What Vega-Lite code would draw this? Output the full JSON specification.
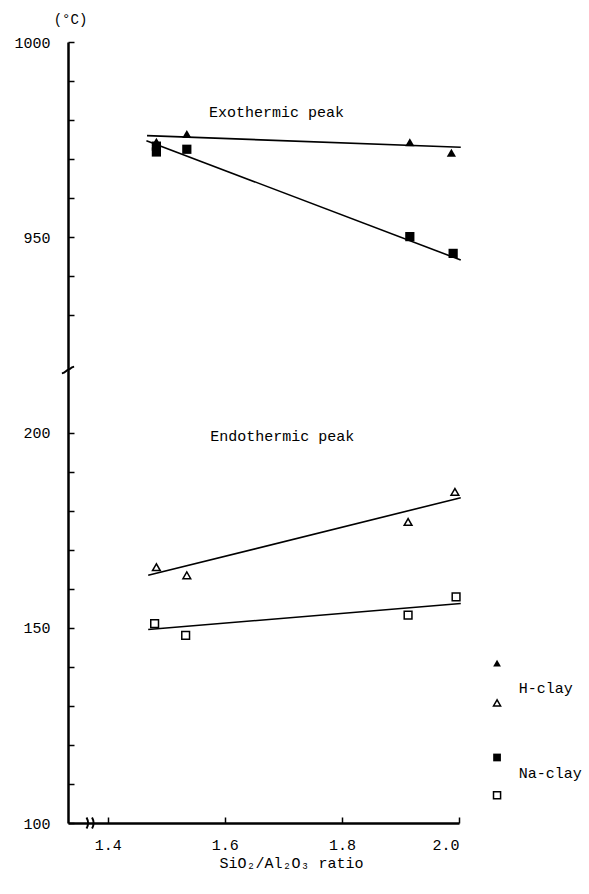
{
  "$schema": "https://vega.github.io/schema/vega-lite/v6.json",
  "background": "white",
  "padding": {"left": 13, "top": 12, "right": 0, "bottom": 30},
  "spacing": 0,
  "bounds": "flush",
  "config": {
    "view": {"stroke": null},
    "font": "Liberation Mono",
    "axis": {
      "grid": false,
      "domainColor": "black",
      "domainWidth": 2.5,
      "tickColor": "black",
      "tickWidth": 1.5,
      "tickSize": -6,
      "labelColor": "black",
      "labelFont": "Liberation Mono",
      "labelFontSize": 15,
      "titleColor": "black",
      "titleFont": "Liberation Mono",
      "titleFontSize": 15,
      "titleFontWeight": "normal"
    }
  },
  "datasets": {
    "points": [
      {"peak": "exo", "clay": "H-clay", "x": 1.483, "y": 974.4},
      {"peak": "exo", "clay": "H-clay", "x": 1.535, "y": 976.4},
      {"peak": "exo", "clay": "H-clay", "x": 1.916, "y": 974.3},
      {"peak": "exo", "clay": "H-clay", "x": 1.987, "y": 971.6},
      {"peak": "exo", "clay": "Na-clay", "x": 1.483, "y": 973.3},
      {"peak": "exo", "clay": "Na-clay", "x": 1.483, "y": 971.8},
      {"peak": "exo", "clay": "Na-clay", "x": 1.535, "y": 972.5},
      {"peak": "exo", "clay": "Na-clay", "x": 1.916, "y": 950.1},
      {"peak": "exo", "clay": "Na-clay", "x": 1.99, "y": 945.8},
      {"peak": "endo", "clay": "H-clay", "x": 1.483, "y": 165.6},
      {"peak": "endo", "clay": "H-clay", "x": 1.535, "y": 163.5},
      {"peak": "endo", "clay": "H-clay", "x": 1.913, "y": 177.2},
      {"peak": "endo", "clay": "H-clay", "x": 1.993, "y": 184.9},
      {"peak": "endo", "clay": "Na-clay", "x": 1.48, "y": 151.1},
      {"peak": "endo", "clay": "Na-clay", "x": 1.533, "y": 148.1},
      {"peak": "endo", "clay": "Na-clay", "x": 1.913, "y": 153.3},
      {"peak": "endo", "clay": "Na-clay", "x": 1.995, "y": 158.0}
    ],
    "lines": [
      {"peak": "exo", "clay": "H-clay", "x": 1.467, "y": 976.0},
      {"peak": "exo", "clay": "H-clay", "x": 2.003, "y": 973.0},
      {"peak": "exo", "clay": "Na-clay", "x": 1.466, "y": 974.7},
      {"peak": "exo", "clay": "Na-clay", "x": 2.003, "y": 944.1},
      {"peak": "endo", "clay": "H-clay", "x": 1.469, "y": 163.5},
      {"peak": "endo", "clay": "H-clay", "x": 2.003, "y": 183.4},
      {"peak": "endo", "clay": "Na-clay", "x": 1.469, "y": 149.6},
      {"peak": "endo", "clay": "Na-clay", "x": 2.003, "y": 156.3}
    ],
    "labels": [
      {"peak": "exo", "x": 1.573, "y": 982, "text": "Exothermic peak"},
      {"peak": "endo", "x": 1.575, "y": 199.2, "text": "Endothermic peak"}
    ],
    "legendSymbols": [
      {"clay": "H-clay", "fill": "filled", "x": 2.065, "y": 141.0},
      {"clay": "H-clay", "fill": "open", "x": 2.065, "y": 130.8},
      {"clay": "Na-clay", "fill": "filled", "x": 2.065, "y": 116.8},
      {"clay": "Na-clay", "fill": "open", "x": 2.065, "y": 107.1}
    ],
    "legendLabels": [
      {"x": 2.102, "y": 134.5, "text": "H-clay"},
      {"x": 2.102, "y": 112.8, "text": "Na-clay"}
    ],
    "breaks": [
      {"panel": "top", "x": 1.332, "y": 915.9},
      {"panel": "bottom", "x": 1.371, "y": 100}
    ]
  },
  "vconcat": [
    {
      "width": 391,
      "height": 328,
      "layer": [
        {
          "data": {"name": "lines"},
          "transform": [{"filter": "datum.peak === 'exo'"}],
          "mark": {"type": "line", "color": "black", "strokeWidth": 1.6},
          "encoding": {
            "x": {"field": "x", "type": "quantitative", "scale": {"domain": [1.332, 2.0], "nice": false, "zero": false}, "axis": null},
            "y": {
              "field": "y", "type": "quantitative",
              "scale": {"domain": [915.9, 1000], "nice": false, "zero": false},
              "axis": {
                "values": [930, 940, 950, 960, 970, 980, 990, 1000],
                "format": "d",
                "labelExpr": "datum.value == 1000 || datum.value == 950 ? datum.label : ''",
                "labelPadding": 24,
                "title": "(°C)",
                "titleAngle": 0,
                "titleAlign": "center",
                "titleBaseline": "middle",
                "titleX": 2,
                "titleY": -23,
                "titleFontSize": 14
              }
            },
            "detail": {"field": "clay"}
          }
        },
        {
          "data": {"name": "points"},
          "transform": [{"filter": "datum.peak === 'exo'"}],
          "mark": {"type": "point", "filled": true, "color": "black", "opacity": 1, "size": 85},
          "encoding": {
            "x": {"field": "x", "type": "quantitative"},
            "y": {"field": "y", "type": "quantitative"},
            "shape": {"field": "clay", "type": "nominal", "scale": {"domain": ["H-clay", "Na-clay"], "range": ["triangle-up", "square"]}, "legend": null}
          }
        },
        {
          "data": {"name": "labels"},
          "transform": [{"filter": "datum.peak === 'exo'"}],
          "mark": {"type": "text", "align": "left", "baseline": "middle", "fontSize": 15, "color": "black", "font": "Liberation Mono"},
          "encoding": {
            "x": {"field": "x", "type": "quantitative"},
            "y": {"field": "y", "type": "quantitative"},
            "text": {"field": "text"}
          }
        },
        {
          "data": {"name": "breaks"},
          "transform": [{"filter": "datum.panel === 'top'"}],
          "mark": {"type": "point", "filled": false, "color": "black", "strokeWidth": 2, "opacity": 1, "size": 150,
                   "shape": "M-1,0.55 C-0.4,0.45 -0.2,-0.05 0,0 C0.2,0.05 0.4,-0.45 1,-0.55"},
          "encoding": {
            "x": {"field": "x", "type": "quantitative"},
            "y": {"field": "y", "type": "quantitative"}
          }
        }
      ]
    },
    {
      "width": 391,
      "height": 453,
      "layer": [
        {
          "data": {"name": "lines"},
          "transform": [{"filter": "datum.peak === 'endo'"}],
          "mark": {"type": "line", "color": "black", "strokeWidth": 1.6},
          "encoding": {
            "x": {
              "field": "x", "type": "quantitative",
              "scale": {"domain": [1.332, 2.0], "nice": false, "zero": false},
              "axis": {
                "values": [1.4, 1.6, 1.8, 2.0],
                "format": ".1f",
                "labelPadding": 20,
                "title": "SiO₂/Al₂O₃ ratio",
                "titleX": 223,
                "titleY": 39,
                "titleAlign": "center",
                "titleBaseline": "middle",
                "titleFontSize": 15
              }
            },
            "y": {
              "field": "y", "type": "quantitative",
              "scale": {"domain": [100, 216.15], "nice": false, "zero": false},
              "axis": {
                "values": [100, 110, 120, 130, 140, 150, 160, 170, 180, 190, 200],
                "format": "d",
                "labelExpr": "datum.value == 100 || datum.value == 150 || datum.value == 200 ? datum.label : ''",
                "labelPadding": 24,
                "title": null
              }
            },
            "detail": {"field": "clay"}
          }
        },
        {
          "data": {"name": "points"},
          "transform": [{"filter": "datum.peak === 'endo'"}],
          "mark": {"type": "point", "filled": false, "color": "black", "strokeWidth": 1.5, "opacity": 1, "size": 60},
          "encoding": {
            "x": {"field": "x", "type": "quantitative"},
            "y": {"field": "y", "type": "quantitative"},
            "shape": {"field": "clay", "type": "nominal", "scale": {"domain": ["H-clay", "Na-clay"], "range": ["triangle-up", "square"]}, "legend": null}
          }
        },
        {
          "data": {"name": "labels"},
          "transform": [{"filter": "datum.peak === 'endo'"}],
          "mark": {"type": "text", "align": "left", "baseline": "middle", "fontSize": 15, "color": "black", "font": "Liberation Mono"},
          "encoding": {
            "x": {"field": "x", "type": "quantitative"},
            "y": {"field": "y", "type": "quantitative"},
            "text": {"field": "text"}
          }
        },
        {
          "data": {"name": "legendSymbols"},
          "transform": [{"filter": "datum.fill === 'filled'"}],
          "mark": {"type": "point", "filled": true, "color": "black", "opacity": 1, "size": 60},
          "encoding": {
            "x": {"field": "x", "type": "quantitative"},
            "y": {"field": "y", "type": "quantitative"},
            "shape": {"field": "clay", "type": "nominal", "scale": {"domain": ["H-clay", "Na-clay"], "range": ["triangle-up", "square"]}, "legend": null}
          }
        },
        {
          "data": {"name": "legendSymbols"},
          "transform": [{"filter": "datum.fill === 'open'"}],
          "mark": {"type": "point", "filled": false, "color": "black", "strokeWidth": 1.5, "opacity": 1, "size": 50},
          "encoding": {
            "x": {"field": "x", "type": "quantitative"},
            "y": {"field": "y", "type": "quantitative"},
            "shape": {"field": "clay", "type": "nominal", "scale": {"domain": ["H-clay", "Na-clay"], "range": ["triangle-up", "square"]}, "legend": null}
          }
        },
        {
          "data": {"name": "legendLabels"},
          "mark": {"type": "text", "align": "left", "baseline": "middle", "fontSize": 15, "color": "black", "font": "Liberation Mono"},
          "encoding": {
            "x": {"field": "x", "type": "quantitative"},
            "y": {"field": "y", "type": "quantitative"},
            "text": {"field": "text"}
          }
        },
        {
          "data": {"name": "breaks"},
          "transform": [{"filter": "datum.panel === 'bottom'"}],
          "mark": {"type": "point", "filled": false, "color": "black", "strokeWidth": 2, "opacity": 1, "size": 150,
                   "shape": "M-0.7,-0.9 Q-0.2,0 -0.7,0.9 M0.2,-0.9 Q0.7,0 0.2,0.9"},
          "encoding": {
            "x": {"field": "x", "type": "quantitative"},
            "y": {"field": "y", "type": "quantitative"}
          }
        }
      ]
    }
  ]
}
